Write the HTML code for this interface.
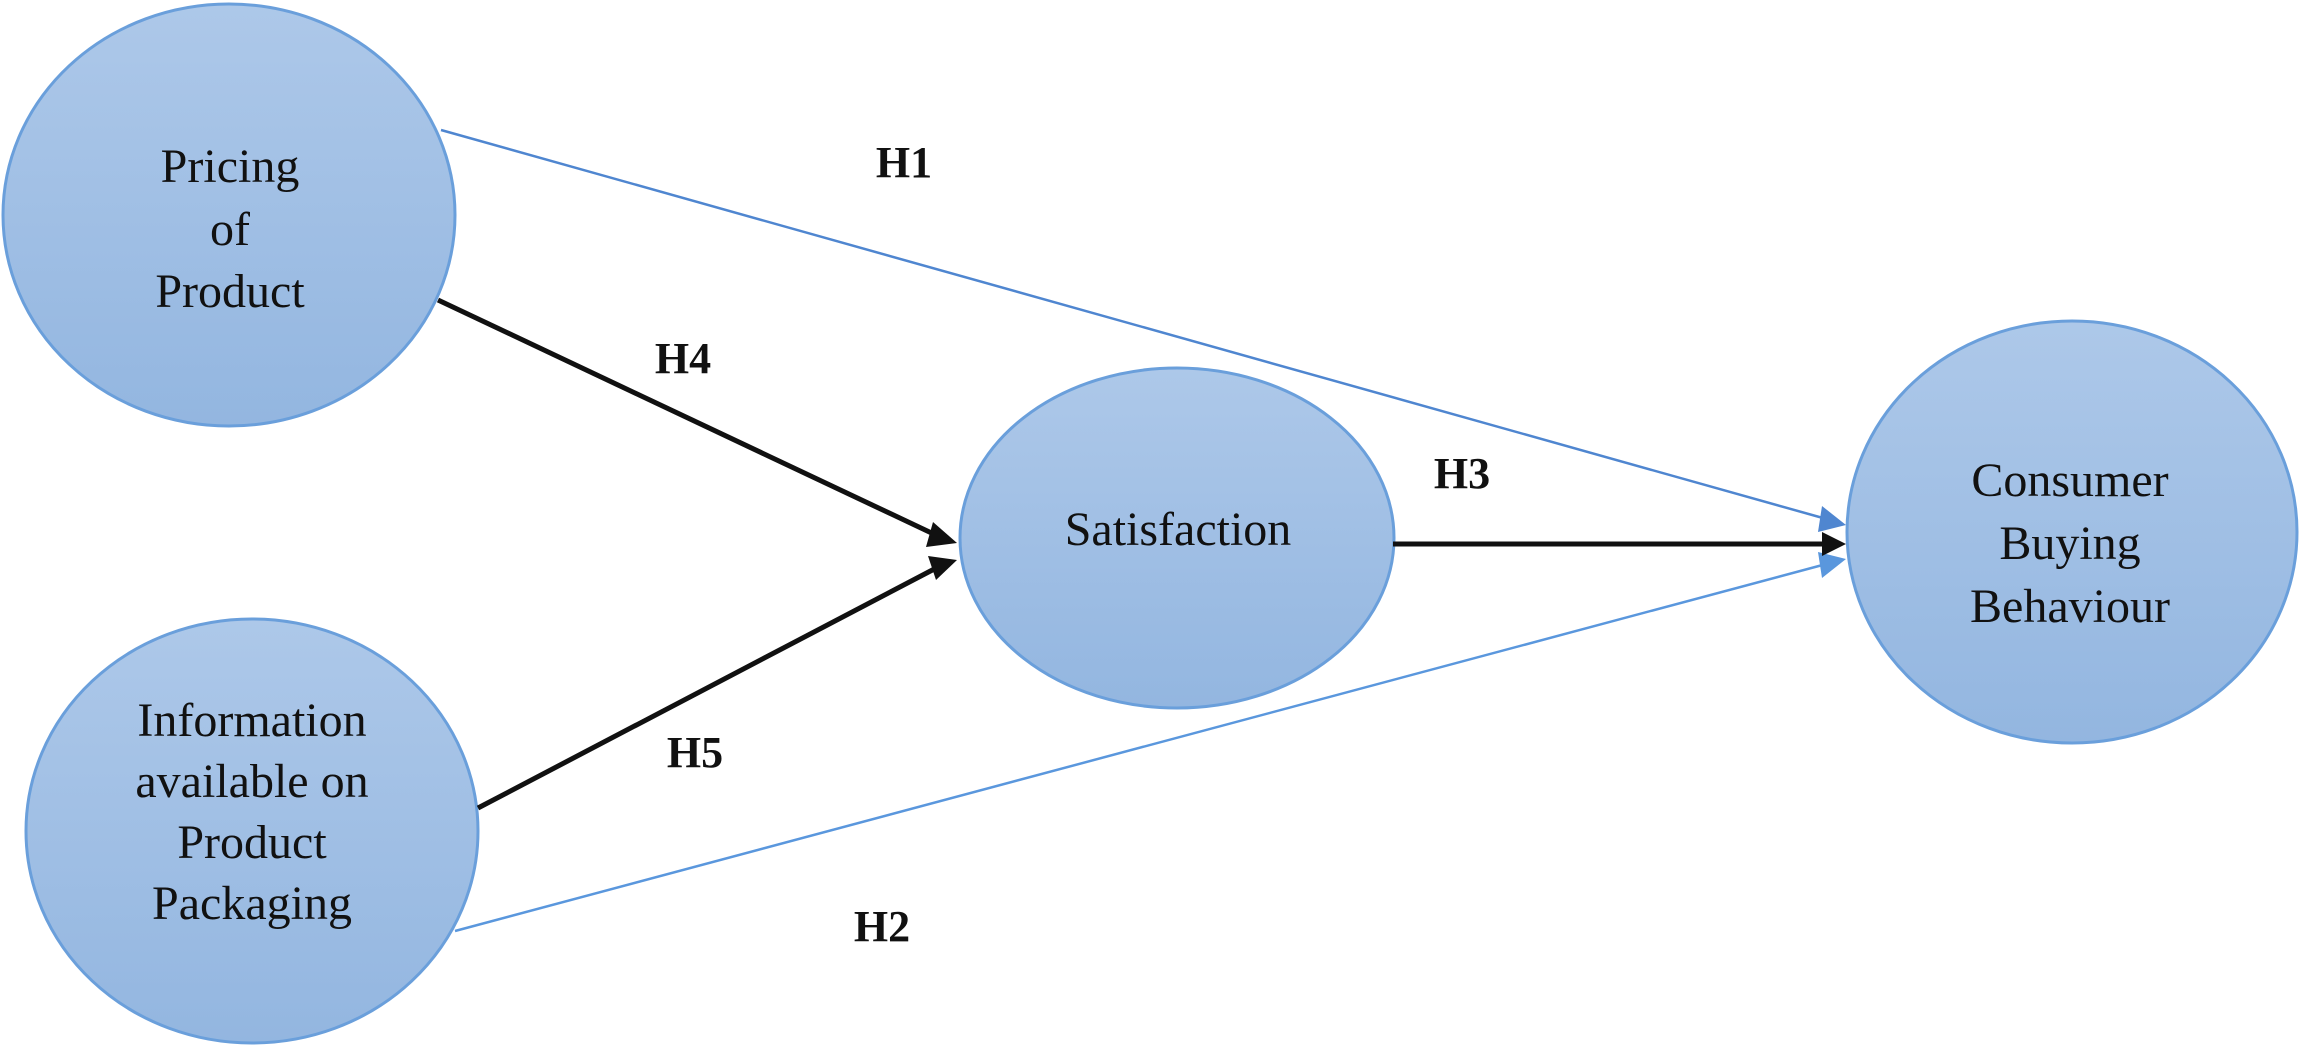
<!DOCTYPE html>
<html><head><meta charset="utf-8"><style>html,body{margin:0;padding:0;background:#fff;}svg{display:block}</style></head>
<body>
<svg width="2304" height="1049" viewBox="0 0 2304 1049" xmlns="http://www.w3.org/2000/svg">
<defs>
<linearGradient id="g" x1="0" y1="0" x2="0" y2="1">
<stop offset="0" stop-color="#adc8e9"/><stop offset="1" stop-color="#93b6e0"/>
</linearGradient>
</defs>
<g fill="url(#g)" stroke="#6a9fdb" stroke-width="3">
<ellipse cx="229" cy="215" rx="226" ry="211"/>
<ellipse cx="252" cy="831" rx="226" ry="212"/>
<ellipse cx="1177" cy="538" rx="217" ry="170"/>
<ellipse cx="2072" cy="532" rx="225" ry="211"/>
</g>
<g stroke-linecap="butt">
<line x1="441" y1="130" x2="1830" y2="520" stroke="#4f86d0" stroke-width="2.5"/>
<line x1="455" y1="931" x2="1830" y2="563" stroke="#5a97dd" stroke-width="2.5"/>
<line x1="438" y1="300" x2="940" y2="537" stroke="#111" stroke-width="5"/>
<line x1="478" y1="808" x2="940" y2="566" stroke="#111" stroke-width="5"/>
<line x1="1393" y1="544" x2="1828" y2="544" stroke="#111" stroke-width="5"/>
</g>
<polygon points="1846,525 1822,506 1818,532" fill="#4f86d0"/>
<polygon points="1846,559 1818,552 1822,578" fill="#5a97dd"/>
<polygon points="1846,544 1822,532 1822,556" fill="#111"/>
<polygon points="957,543 933,522 926,547" fill="#111"/>
<polygon points="957,560 928,556 936,580" fill="#111"/>
<g font-family="'Liberation Serif', serif" font-size="48" fill="#111" text-anchor="middle">
<text x="230" y="182">Pricing</text>
<text x="230" y="245">of</text>
<text x="230" y="307">Product</text>
<text x="252" y="736">Information</text>
<text x="252" y="797">available on</text>
<text x="252" y="858">Product</text>
<text x="252" y="919">Packaging</text>
<text x="1178" y="545">Satisfaction</text>
<text x="2070" y="496">Consumer</text>
<text x="2070" y="559">Buying</text>
<text x="2070" y="622">Behaviour</text>
</g>
<g font-family="'Liberation Serif', serif" font-size="44" font-weight="bold" fill="#111" text-anchor="middle">
<text x="904" y="177">H1</text>
<text x="683" y="373">H4</text>
<text x="1462" y="488">H3</text>
<text x="695" y="767">H5</text>
<text x="882" y="941">H2</text>
</g>
</svg>
</body></html>
